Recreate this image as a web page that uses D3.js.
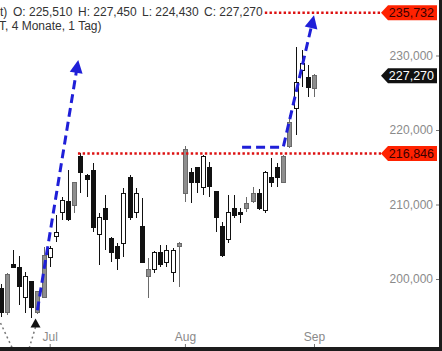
<!DOCTYPE html>
<html>
<head>
<meta charset="utf-8">
<script src="https://cdn.jsdelivr.net/npm/d3@7"></script>
<style>
  body { margin: 0; background: #fff; overflow: hidden; }
  svg { display: block; font-family: "Liberation Sans", Arial, sans-serif; }
</style>
</head>
<body>
<div id="chart"></div>
<script>
/* CONSTANTS AND GLOBALS */
const width = 442,
  height = 351,
  plotRight = 439,
  plotBottom = 347,
  bodyWidth = 4;

/* DATA */
const opens = [198790, 195570, 202010, 201480, 197580, 199600, 195570, 197580, 202950, 205640,
  208860, 210340, 209930, 216380, 213830, 214500, 205910, 209400, 205500, 204300,
  204830, 213690, 208990, 206980, 200270, 201340, 203490, 202280, 200810, 204300,
  211540, 214230, 214900, 212220, 214900, 211680, 206980, 205240, 209530, 208860,
  209530, 210340, 211540, 209260, 213690, 214900, 213020, 217850, 222950, 227920,
  226980, 225510];
const highs = [199330, 200810, 203890, 203090, 200940, 199730, 198390, 204300, 204430, 208590,
  211010, 214630, 213020, 216910, 214090, 215570, 208860, 211280, 205640, 204830,
  212220, 213960, 212220, 210870, 202820, 203760, 204560, 204560, 204160, 204970,
  217850, 214900, 215030, 216650, 215710, 211810, 207650, 211280, 211280, 209530,
  211010, 212350, 212080, 214500, 216240, 215570, 216650, 222010, 231140, 230740,
  228730, 227450];
const lows = [194900, 195170, 201480, 196510, 195440, 194770, 195300, 197450, 201610, 204970,
  207920, 207790, 208860, 211540, 211010, 206310, 201880, 203890, 202280, 201210,
  202950, 207920, 208190, 202150, 197450, 200810, 201610, 201610, 199600, 198930,
  210340, 210200, 211540, 211280, 211010, 206310, 202950, 204830, 208190, 207520,
  208990, 210200, 209260, 208860, 212350, 212350, 212890, 217580, 219330, 225770,
  224430, 224430];
const closes = [195440, 200540, 201610, 198930, 200270, 196110, 198260, 203220, 204160, 206180,
  210600, 207920, 212890, 214230, 213420, 206850, 208190, 207920, 203620, 202690,
  211540, 208320, 211540, 202280, 201210, 203620, 201880, 203890, 203890, 204830,
  217320, 213020, 212890, 216380, 212350, 208190, 203220, 208990, 208590, 208660,
  210200, 211540, 209530, 214360, 212890, 213560, 216380, 221070, 226440, 228990,
  225640, 227270];
// candle look: hollow, filled black, filled grey
const kinds = ["down", "grey", "down", "down", "up", "down", "grey", "grey", "up", "up",
  "up", "down", "grey", "down", "down", "down", "up", "down", "down", "down",
  "up", "down", "up", "down", "grey", "up", "down", "up", "up", "grey",
  "grey", "down", "down", "up", "down", "down", "down", "up", "down", "down",
  "grey", "grey", "down", "up", "down", "down", "grey", "grey", "up", "up",
  "down", "grey"];

const monthTicks = [8, 30, 51];
const monthLabels = ["Jul", "Aug", "Sep"];
const priceTicks = [200000, 210000, 220000, 230000];

// horizontal levels: value and where the dotted line starts (candle index)
const levelValues = [235732, 216846];
const levelStarts = [43, 12.6];

// drawn annotations, as [candle index, price]
const arrowLeft = [[6, 195800], [12.65, 229400]];
const arrowRight = [[39.3, 217700], [46, 217700], [51, 235400]];
const dottedA = [[0, 194100], [2.1, 190400]];
const dottedB = [[5.7, 193550], [4.55, 190400]];
const markerTip = [5.7, 194700];

const headerPrefix = "t)";
const headerLine2 = "T, 4 Monate, 1 Tag)";

/* SCALES */
const fmt = d3.format(",");
const candles = opens.map((o, i) => ({
  i, open: o, high: highs[i], low: lows[i], close: closes[i], kind: kinds[i]
}));
const last = candles[candles.length - 1];

const xScale = d3.scaleLinear().domain([0, 51]).range([0.5, 314]);
const yScale = d3.scaleLinear().domain([200000, 230000]).range([279, 55.5]);

const svg = d3.select("#chart")
  .append("svg")
  .attr("width", width)
  .attr("height", height);

/* HEADER */
const head = svg.append("g").attr("font-size", 12).attr("fill", "#333");
const headParts = [headerPrefix, "O: " + fmt(last.open), "H: " + fmt(last.high),
  "L: " + fmt(last.low), "C: " + fmt(last.close)];
const headX = [0, 13, 78, 142, 204];
head.selectAll("text.h1")
  .data(headParts)
  .join("text")
  .attr("class", "h1")
  .attr("x", (d, i) => headX[i])
  .attr("y", 16)
  .text(d => d);
head.append("text").attr("x", -1).attr("y", 30).text(headerLine2);

/* AXES */
const yAxis = d3.axisLeft(yScale)
  .tickValues(priceTicks)
  .tickFormat(fmt)
  .tickSize(3)
  .tickPadding(3);
svg.append("g")
  .attr("transform", `translate(${plotRight},0)`)
  .call(yAxis)
  .call(g => g.select(".domain").remove())
  .call(g => g.selectAll("line").attr("stroke", "#777"))
  .call(g => g.selectAll("text").attr("fill", "#8a8a8a").attr("font-size", 12)
    .attr("font-family", "Liberation Sans, Arial, sans-serif"));

const xAxis = d3.axisTop(xScale)
  .tickValues(monthTicks)
  .tickFormat((d, i) => monthLabels[i])
  .tickSize(3)
  .tickPadding(3);
svg.append("g")
  .attr("transform", `translate(0,${plotBottom})`)
  .call(xAxis)
  .call(g => g.select(".domain").remove())
  .call(g => g.selectAll("line").attr("stroke", "#777"))
  .call(g => g.selectAll("text").attr("fill", "#8a8a8a").attr("font-size", 12)
    .attr("font-family", "Liberation Sans, Arial, sans-serif"));

/* CANDLES */
const fillOf = k => k === "up" ? "#fff" : k === "down" ? "#111" : "#8e8e8e";
const strokeOf = k => k === "grey" ? "#6a6a6a" : "#111";

const candle = svg.append("g")
  .attr("shape-rendering", "crispEdges")
  .selectAll("g")
  .data(candles)
  .join("g");

candle.append("line")
  .attr("x1", d => Math.round(xScale(d.i)) + 0.5)
  .attr("x2", d => Math.round(xScale(d.i)) + 0.5)
  .attr("y1", d => yScale(d.high))
  .attr("y2", d => yScale(d.low))
  .attr("stroke", d => strokeOf(d.kind));

candle.append("rect")
  .attr("x", d => Math.round(xScale(d.i)) - bodyWidth / 2 + 0.5)
  .attr("y", d => yScale(Math.max(d.open, d.close)))
  .attr("width", bodyWidth)
  .attr("height", d => Math.max(1, Math.abs(yScale(d.open) - yScale(d.close))))
  .attr("fill", d => fillOf(d.kind))
  .attr("stroke", d => strokeOf(d.kind));

/* DOTTED LEVELS + PRICE TAGS */
const tagLeft = 381, tagRight = 437, tagH = 15;
function tag(value, fill, textFill) {
  const y = yScale(value);
  svg.append("path")
    .attr("d", `M${tagLeft},${y} L${tagLeft + 7},${y - tagH / 2} L${tagRight},${y - tagH / 2} L${tagRight},${y + tagH / 2} L${tagLeft + 7},${y + tagH / 2} Z`)
    .attr("fill", fill);
  svg.append("text")
    .attr("x", tagRight - 3)
    .attr("y", y + 4.5)
    .attr("text-anchor", "end")
    .attr("font-size", 12.5)
    .attr("fill", textFill)
    .text(fmt(value));
}

svg.selectAll("line.level")
  .data(levelValues)
  .join("line")
  .attr("class", "level")
  .attr("x1", (d, i) => xScale(levelStarts[i]))
  .attr("x2", tagLeft)
  .attr("y1", d => yScale(d))
  .attr("y2", d => yScale(d))
  .attr("stroke", "#dd1111")
  .attr("stroke-width", 2.5)
  .attr("stroke-dasharray", "2.4,2.3");

levelValues.forEach(v => tag(v, "#ff2200", "#3a0000"));
tag(last.close, "#111", "#fff");

/* DRAWN ANNOTATIONS */
const line = d3.line().x(d => xScale(d[0])).y(d => yScale(d[1]));

function arrow(pts) {
  const n = pts.length;
  const tx = xScale(pts[n - 1][0]), ty = yScale(pts[n - 1][1]);
  const px = xScale(pts[n - 2][0]), py = yScale(pts[n - 2][1]);
  const a = Math.atan2(ty - py, tx - px);
  const len = 13, half = 6.5;
  const bx = tx - len * Math.cos(a), by = ty - len * Math.sin(a);
  const shaft = pts.slice(0, n - 1).map(p => [xScale(p[0]), yScale(p[1])]);
  shaft.push([bx + 2 * Math.cos(a), by + 2 * Math.sin(a)]);
  svg.append("path")
    .attr("d", d3.line()(shaft))
    .attr("fill", "none")
    .attr("stroke", "#1f1fd8")
    .attr("stroke-width", 3)
    .attr("stroke-dasharray", "9,5");
  svg.append("path")
    .attr("d", `M${tx},${ty} L${bx - half * Math.sin(a)},${by + half * Math.cos(a)} L${bx + half * Math.sin(a)},${by - half * Math.cos(a)} Z`)
    .attr("fill", "#1f1fd8");
}
arrow(arrowLeft);
arrow(arrowRight);

[dottedA, dottedB].forEach(pts => {
  svg.append("path")
    .attr("d", line(pts))
    .attr("fill", "none")
    .attr("stroke", "#777")
    .attr("stroke-width", 1.5)
    .attr("stroke-dasharray", "2,3");
});

const mx = xScale(markerTip[0]), my = yScale(markerTip[1]);
svg.append("path")
  .attr("d", `M${mx},${my} L${mx + 5},${my + 9} L${mx - 5},${my + 9} Z`)
  .attr("fill", "#111");

/* FRAME (dark edges of the screenshot) */
svg.append("rect").attr("x", 0).attr("y", plotBottom).attr("width", width).attr("height", height - plotBottom).attr("fill", "#1c1c1c");
svg.append("rect").attr("x", plotRight).attr("y", 0).attr("width", width - plotRight).attr("height", height).attr("fill", "#1c1c1c");
</script>
</body>
</html>
